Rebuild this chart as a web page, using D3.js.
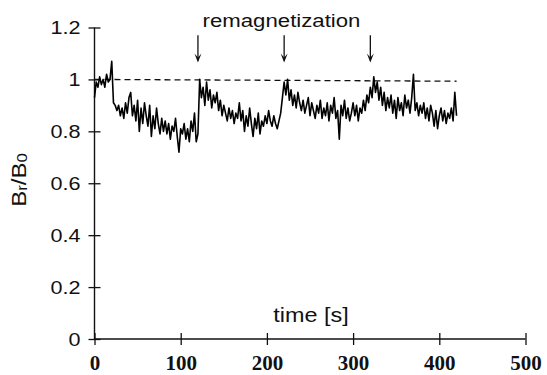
<!DOCTYPE html>
<html>
<head>
<meta charset="utf-8">
<script src="https://cdn.jsdelivr.net/npm/d3@7"></script>
<style>
  html, body { margin: 0; padding: 0; background: #fff; }
  svg { display: block; }
  .sans { font-family: "Liberation Sans", Arial, Helvetica, sans-serif; fill: #111; }
  .serif { font-family: "Liberation Serif", "Times New Roman", serif; fill: #111; }
</style>
</head>
<body>
<script>
// ---- data ----
const sampleStep = 2; // seconds between samples
const ratioValues = [
  0.93, 0.99, 0.97, 1.01, 0.98, 1.00, 0.97, 1.02, 0.99, 1.00,
  1.07, 0.91, 0.90, 0.88, 0.90, 0.86, 0.89, 0.85, 0.91, 0.87,
  0.93, 0.95, 0.86, 0.90, 0.84, 0.92, 0.80, 0.89, 0.83, 0.91,
  0.86, 0.82, 0.90, 0.78, 0.86, 0.81, 0.89, 0.83, 0.79, 0.85,
  0.80, 0.84, 0.79, 0.83, 0.77, 0.82, 0.80, 0.85, 0.78, 0.72,
  0.81, 0.79, 0.83, 0.77, 0.81, 0.76, 0.84, 0.80, 0.87, 0.76,
  0.79, 1.00, 0.93, 0.97, 0.90, 0.99, 0.92, 0.96, 0.89, 0.94,
  0.91, 0.95, 0.88, 0.92, 0.86, 0.90, 0.87, 0.84, 0.89, 0.85,
  0.88, 0.83, 0.87, 0.85, 0.91, 0.84, 0.88, 0.80, 0.86, 0.82,
  0.89, 0.83, 0.78, 0.85, 0.81, 0.87, 0.79, 0.84, 0.82, 0.86,
  0.83, 0.88, 0.84, 0.82, 0.86, 0.83, 0.81, 0.84, 0.87, 0.93,
  0.99, 0.94, 1.00, 0.92, 0.96, 0.90, 0.94, 0.89, 0.95, 0.91,
  0.88, 0.92, 0.87, 0.90, 0.93, 0.86, 0.91, 0.88, 0.85, 0.90,
  0.87, 0.92, 0.85, 0.89, 0.86, 0.91, 0.84, 0.90, 0.87, 0.93,
  0.85, 0.88, 0.77, 0.90, 0.86, 0.92, 0.85, 0.89, 0.84, 0.87,
  0.91, 0.86, 0.90, 0.84, 0.89, 0.87, 0.92, 0.88, 0.94, 0.91,
  0.97, 0.93, 1.01, 0.95, 0.99, 0.92, 0.97, 0.90, 0.95, 0.88,
  0.93, 0.89, 0.94, 0.87, 0.92, 0.85, 0.93, 0.88, 0.91, 0.86,
  0.94, 0.89, 0.92, 0.87, 0.93, 1.02, 0.88, 0.91, 0.86, 0.90,
  0.87, 0.91, 0.85, 0.89, 0.84, 0.90, 0.87, 0.82, 0.88, 0.81,
  0.86, 0.89, 0.84, 0.88, 0.83, 0.87, 0.85, 0.89, 0.84, 0.95,
  0.86
];
const referenceTimes = [0, 420];
const referenceValues = [1.0, 0.993];
const remagTimes = [120, 220, 320];
const arrowTop = 1.17, arrowBottom = 1.065;
const xTicks = [0, 100, 200, 300, 400, 500];
const xTickLabels = ["0", "100", "200", "300", "400", "500"];
const yTicks = [0, 0.2, 0.4, 0.6, 0.8, 1.0, 1.2];
const yTickLabels = ["0", "0.2", "0.4", "0.6", "0.8", "1", "1.2"];

// ---- layout ----
const W = 547, H = 375;
const x = d3.scaleLinear().domain([0, 500]).range([94.5, 525.5]);
const y = d3.scaleLinear().domain([0, 1.2]).range([339, 27.5]);
const SX = 1.2; // horizontal stretch of the sans text

const svg = d3.select("body").append("svg").attr("width", W).attr("height", H);

// y axis
const yAxis = svg.append("g").attr("transform", `translate(${x(0)},0)`)
  .call(d3.axisLeft(y).tickValues(yTicks).tickSize(6).tickPadding(0)
    .tickFormat((d, i) => yTickLabels[i]));
yAxis.select(".domain").attr("d", `M0,${y(1.2)}V${y(0)}`).attr("stroke", "#111").attr("stroke-width", 1.4);
yAxis.selectAll(".tick line").attr("x1", -6).attr("x2", 6).attr("stroke", "#111").attr("stroke-width", 1.3);
yAxis.selectAll(".tick text")
  .attr("class", "sans").attr("font-size", 18).attr("x", -14 / SX).attr("dy", "0.36em")
  .attr("transform", `scale(${SX},1)`).style("fill", "#111");
yAxis.attr("font-family", null);

// x axis
const xAxis = svg.append("g").attr("transform", `translate(0,${y(0)})`)
  .call(d3.axisBottom(x).tickValues(xTicks).tickSize(6).tickPadding(0)
    .tickFormat((d, i) => xTickLabels[i]));
xAxis.select(".domain").attr("d", `M${x(0)},0H${x(500)}`).attr("stroke", "#111").attr("stroke-width", 1.4);
xAxis.selectAll(".tick line").attr("y1", -6).attr("y2", 6).attr("stroke", "#111").attr("stroke-width", 1.3);
xAxis.selectAll(".tick text")
  .attr("class", "serif").attr("font-size", 21).attr("font-weight", "bold")
  .attr("y", 30.5).attr("dy", 0)
  .style("fill", "#111");
xAxis.attr("font-family", null);

// reference dashed line
svg.append("path")
  .datum(referenceTimes.map((t, i) => [t, referenceValues[i]]))
  .attr("d", d3.line().x(d => x(d[0])).y(d => y(d[1])))
  .attr("fill", "none").attr("stroke", "#111").attr("stroke-width", 1.3)
  .attr("stroke-dasharray", "6,4");

// data line
svg.append("path")
  .datum(ratioValues.map((v, i) => [i * sampleStep, v]))
  .attr("d", d3.line().x(d => x(d[0])).y(d => y(d[1])))
  .attr("fill", "none").attr("stroke", "#000").attr("stroke-width", 1.6)
  .attr("stroke-linejoin", "round");

// arrows
remagTimes.forEach(t => {
  const ax = x(t), y0 = y(arrowTop), y1 = y(arrowBottom);
  svg.append("line").attr("x1", ax).attr("x2", ax).attr("y1", y0).attr("y2", y1 - 2)
    .attr("stroke", "#111").attr("stroke-width", 1.3);
  svg.append("path")
    .attr("d", `M${ax - 3.5},${y1 - 9} L${ax},${y1} L${ax + 3.5},${y1 - 9} L${ax},${y1 - 5} Z`)
    .attr("fill", "#111");
});

// texts
function stretchedText(txt, cx, by, size) {
  return svg.append("text").attr("class", "sans")
    .attr("transform", `translate(${cx},${by}) scale(${SX},1)`)
    .attr("text-anchor", "middle").attr("font-size", size).text(txt);
}
stretchedText("remagnetization", 281.5, 27, 18.5);
stretchedText("time [s]", 311, 322, 19.5);

// y axis title
const yt = svg.append("text").attr("class", "sans")
  .attr("transform", `translate(26,180) rotate(-90) scale(${SX},1)`)
  .attr("text-anchor", "middle").attr("font-size", 20);
yt.append("tspan").text("B");
yt.append("tspan").attr("font-size", 14).attr("dy", 1).text("r");
yt.append("tspan").attr("dy", -1).text("/B");
yt.append("tspan").attr("font-size", 14).attr("dy", 1).text("0");
</script>
</body>
</html>
